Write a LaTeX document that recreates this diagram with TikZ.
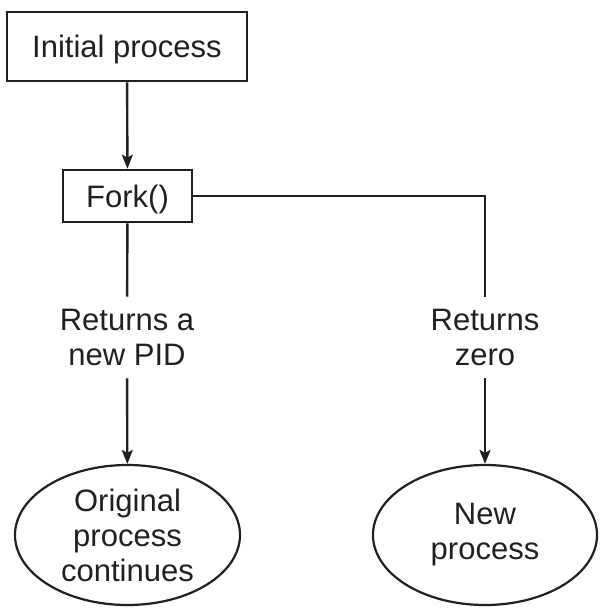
\documentclass[tikz,border=0pt]{standalone}
\usepackage{fontspec}
\setmainfont{Liberation Sans}
\usetikzlibrary{shapes.geometric,arrows.meta}

\begin{document}
\begin{tikzpicture}[x=0.5pt,y=-0.5pt]
    \definecolor{fork_ink}{RGB}{35,31,32}
    \tikzset{
      forkfont/.style={font=\fontsize{15.5}{17.5}\selectfont},
      procbox/.style={shape=rectangle,draw=fork_ink,line width=1.3pt,text=fork_ink,forkfont,inner sep=0pt,text depth=0pt},
      procoval/.style={shape=ellipse,draw=fork_ink,line width=1.1pt,text=fork_ink,align=center,forkfont,inner sep=0pt},
      retlabel/.style={text=fork_ink,align=center,forkfont,inner sep=0pt,minimum height=40.5pt},
      flow/.style={draw=fork_ink,line width=1.2pt},
      flowarrow/.style={flow,-{Stealth[length=7pt,width=5.5pt,inset=1.5pt]}}
    }
    \useasboundingbox (0,0) rectangle (610,611);
    \node[procbox,minimum width=120pt,minimum height=34.5pt] (init) at (127,46.5) { Initial process };
    \node[procbox,minimum width=64.5pt,minimum height=26pt]  (fork) at (127.5,196) { Fork() };
    \node[retlabel] (retpid)  at (127,337.5) { Returns a\\new PID };
    \node[retlabel] (retzero) at (485,337.5) { Returns\\zero };
    \node[procoval,minimum width=112.5pt,minimum height=70pt] (orig) at (127.5,535) { Original\\process\\continues };
    \node[procoval,minimum width=112pt,minimum height=70pt]   (newp) at (485,535) { New\\process };
    \draw[flowarrow] (init) -- (fork);
    \draw[flow] (fork) -- (retpid);
    \draw[flowarrow] (retpid) -- (orig);
    \draw[flow] (fork.east) -| (retzero.north);
    \draw[flowarrow] (retzero) -- (newp);
\end{tikzpicture}
\end{document}
